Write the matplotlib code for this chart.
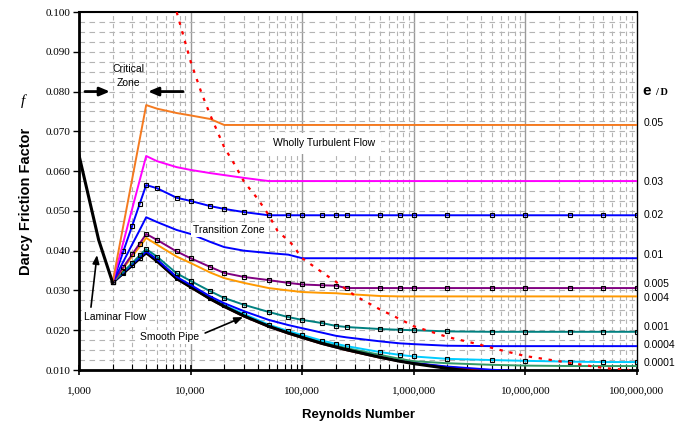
import matplotlib
matplotlib.use("Agg")
import matplotlib.pyplot as plt
from matplotlib.ticker import FuncFormatter, FixedLocator, MultipleLocator

# laminar branch
re_lam = [1000, 1500, 2000]
f_lam = [0.064, 0.0427, 0.032]

# common Reynolds grid for the transition / turbulent curves
re = [2000, 2500, 3000, 3500, 4000, 5000, 7500, 10000, 15000, 20000, 30000,
      50000, 75000, 1e5, 1.5e5, 2e5, 2.5e5, 5e5, 7.5e5, 1e6, 2e6, 5e6, 1e7,
      2.5e7, 5e7, 1e8]

f_005 = [0.0320, 0.0464, 0.0581, 0.0680, 0.0766, 0.0757, 0.0746, 0.0740, 0.0731,
         0.0716, 0.0716, 0.0716, 0.0716, 0.0716, 0.0716, 0.0716, 0.0716, 0.0716,
         0.0716, 0.0716, 0.0716, 0.0716, 0.0716, 0.0716, 0.0716, 0.0716]
f_003 = [0.0320, 0.0422, 0.0506, 0.0577, 0.0638, 0.0625, 0.0610, 0.0603, 0.0595,
         0.0590, 0.0583, 0.0575, 0.0575, 0.0575, 0.0575, 0.0575, 0.0575, 0.0575,
         0.0575, 0.0575, 0.0575, 0.0575, 0.0575, 0.0575, 0.0575, 0.0575]
f_002 = [0.0320, 0.0399, 0.0463, 0.0518, 0.0565, 0.0557, 0.0533, 0.0525, 0.0512,
         0.0505, 0.0497, 0.0489, 0.0489, 0.0489, 0.0489, 0.0489, 0.0489, 0.0489,
         0.0489, 0.0489, 0.0489, 0.0489, 0.0489, 0.0489, 0.0489, 0.0489]
f_001 = [0.0320, 0.0373, 0.0416, 0.0452, 0.0484, 0.0472, 0.0452, 0.0442, 0.0422,
         0.0409, 0.0400, 0.0394, 0.0390, 0.0381, 0.0381, 0.0381, 0.0381, 0.0381,
         0.0381, 0.0381, 0.0381, 0.0381, 0.0381, 0.0381, 0.0381, 0.0381]
f_0005 = [0.0320, 0.0359, 0.0391, 0.0418, 0.0442, 0.0427, 0.0398, 0.0381, 0.0359,
          0.0344, 0.0334, 0.0326, 0.0319, 0.0315, 0.0313, 0.0312, 0.0306, 0.0306,
          0.0306, 0.0306, 0.0306, 0.0306, 0.0306, 0.0306, 0.0306, 0.0306]
f_0004 = [0.0320, 0.0356, 0.0386, 0.0410, 0.0432, 0.0415, 0.0385, 0.0369, 0.0345,
          0.0331, 0.0319, 0.0306, 0.0300, 0.0296, 0.0294, 0.0293, 0.0291, 0.0286,
          0.0285, 0.0285, 0.0285, 0.0285, 0.0285, 0.0285, 0.0285, 0.0285]
f_0001 = [0.0320, 0.0347, 0.0369, 0.0388, 0.0404, 0.0385, 0.0343, 0.0324, 0.0298,
          0.0281, 0.0264, 0.0246, 0.0233, 0.0226, 0.0218, 0.0211, 0.0208, 0.0203,
          0.0201, 0.0200, 0.0197, 0.0196, 0.0196, 0.0196, 0.0196, 0.0196]
f_00004 = [0.0320, 0.0345, 0.0366, 0.0383, 0.0398, 0.0378, 0.0334, 0.0314, 0.0285,
           0.0268, 0.0248, 0.0226, 0.0213, 0.0205, 0.0194, 0.0186, 0.0182, 0.0172,
           0.0167, 0.0165, 0.0161, 0.0160, 0.0160, 0.0160, 0.0160, 0.0160]
f_00001 = [0.0320, 0.0344, 0.0365, 0.0382, 0.0396, 0.0376, 0.0332, 0.0311, 0.0282,
           0.0263, 0.0241, 0.0214, 0.0198, 0.0188, 0.0174, 0.0166, 0.0160, 0.0145,
           0.0138, 0.0134, 0.0128, 0.0125, 0.0123, 0.0121, 0.0120, 0.0120]
f_000005 = [0.0320, 0.0344, 0.0364, 0.0381, 0.0395, 0.0375, 0.0331, 0.0310, 0.0280,
            0.0261, 0.0238, 0.0212, 0.0195, 0.0185, 0.0170, 0.0162, 0.0155, 0.0138,
            0.0128, 0.0122, 0.0117, 0.0113, 0.0111, 0.0110, 0.0110, 0.0110]
f_000001 = [0.0320, 0.0344, 0.0364, 0.0381, 0.0395, 0.0374, 0.0330, 0.0309, 0.0279,
            0.0260, 0.0236, 0.0210, 0.0193, 0.0183, 0.0168, 0.0159, 0.0152, 0.0133,
            0.0123, 0.0118, 0.0109, 0.0101, 0.0097, 0.0094, 0.0093, 0.0092]
f_0000001 = [0.0320, 0.0343, 0.0363, 0.0380, 0.0394, 0.0373, 0.0329, 0.0308, 0.0278,
             0.0259, 0.0235, 0.0209, 0.0192, 0.0181, 0.0166, 0.0157, 0.0150, 0.0131,
             0.0122, 0.0117, 0.0107, 0.0098, 0.0093, 0.0090, 0.0089, 0.0088]
f_smooth = [0.0320, 0.0344, 0.0364, 0.0381, 0.0395, 0.0374, 0.0330, 0.0309, 0.0279,
            0.0260, 0.0236, 0.0210, 0.0193, 0.0182, 0.0167, 0.0158, 0.0151, 0.0132,
            0.0122, 0.0116, 0.0104, 0.0090, 0.0081, 0.0072, 0.0066, 0.0062]

# boundary of the wholly turbulent zone (red dotted)
re_bound = [7500, 10000, 12500, 15000, 20000, 25000, 30000, 40000, 50000, 60000,
            80000, 1e5, 1.5e5, 2e5, 3e5, 5e5, 7.5e5, 1e6, 2e6, 3.5e6, 6e6, 1e7,
            2.5e7, 5e7, 8.5e7]
f_bound = [0.100, 0.0876, 0.0797, 0.0741, 0.0660, 0.0615, 0.0574, 0.0530, 0.0490,
           0.0450, 0.0418, 0.0381, 0.0346, 0.0322, 0.0286, 0.0252, 0.0228, 0.0210,
           0.0183, 0.0167, 0.0150, 0.0135, 0.0118, 0.0105, 0.0100]

ed_labels = ["0.05", "0.03", "0.02", "0.01", "0.005", "0.004", "0.001", "0.0004", "0.0001"]
ed_label_f = [0.0721, 0.0572, 0.0489, 0.0389, 0.0316, 0.0281, 0.0208, 0.0163, 0.0118]

serif = "Liberation Serif"
sans = "Liberation Sans"

fig = plt.figure(figsize=(6.88, 4.25), dpi=100)
ax = fig.add_axes([79/688, 1-370/425, 558/688, 358/425])
ax.set_xscale("log")
ax.set_xlim(1000, 1e8)
ax.set_ylim(0.010, 0.100)

# grid
gcol = "#b4b4b4"
for dec in [1e3, 1e4, 1e5, 1e6, 1e7]:
    for k in range(2, 10):
        ax.axvline(dec*k, color=gcol, lw=0.8, ls=(0, (4, 3)), zorder=0)
for dec in [1e4, 1e5, 1e6, 1e7]:
    ax.axvline(dec, color="#9a9a9a", lw=1.0, zorder=0)
ax.yaxis.set_minor_locator(MultipleLocator(0.0025))
ax.grid(True, which="minor", axis="y", color=gcol, lw=0.8, ls=(0, (5, 4)), zorder=0)
ax.grid(True, which="major", axis="y", color=gcol, lw=0.8, ls=(0, (5, 4)), zorder=0)

mk = dict(marker="s", ms=3, mfc="none", mec="black", mew=0.8)
ax.plot(re, f_0000001, color="#800000", lw=1.6, zorder=3)
ax.plot(re, f_000001, color="#0000ff", lw=1.2, zorder=3)
ax.plot(re, f_000005, color="#339966", lw=1.4, zorder=3)
ax.plot(re, f_00001, color="#00ccff", lw=1.4, zorder=3, **mk)
ax.plot(re, f_smooth, color="black", lw=2.2, zorder=3)
ax.plot(re, f_00004, color="#0000ff", lw=1.4, zorder=3)
ax.plot(re, f_0001, color="#008080", lw=1.4, zorder=3, **mk)
ax.plot(re, f_0004, color="#ff9900", lw=1.4, zorder=3)
ax.plot(re, f_0005, color="#800080", lw=1.4, zorder=3, **mk)
ax.plot(re, f_001, color="#0000ff", lw=1.4, zorder=3)
ax.plot(re, f_002, color="#0000ff", lw=1.4, zorder=3, **mk)
ax.plot(re, f_003, color="#ff00ff", lw=1.4, zorder=3)
ax.plot(re, f_005, color="#f47a20", lw=1.4, zorder=3)
ax.plot(re_lam, f_lam, color="black", lw=2.2, zorder=3)
ax.plot(re_bound, f_bound, color="red", lw=1.6, ls=(0, (1.5, 3)), zorder=4)

# ticks
ax.xaxis.set_major_locator(FixedLocator([1e3, 1e4, 1e5, 1e6, 1e7, 1e8]))
ax.xaxis.set_major_formatter(FuncFormatter(lambda v, p: f"{v:,.0f}"))
ax.yaxis.set_major_locator(MultipleLocator(0.010))
ax.yaxis.set_major_formatter(FuncFormatter(lambda v, p: f"{v:.3f}"))
ax.tick_params(axis="x", which="major", direction="inout", length=7, width=1.2, pad=8)
ax.tick_params(axis="x", which="minor", direction="in", length=4, width=0.8)
ax.tick_params(axis="y", which="major", direction="out", length=4, width=1.0, pad=2)
ax.tick_params(axis="y", which="minor", length=0)
for lab in ax.get_xticklabels() + ax.get_yticklabels():
    lab.set_fontfamily(serif)
    lab.set_fontsize(8)

for s in ["left", "bottom"]:
    ax.spines[s].set_linewidth(2.0)
ax.spines["top"].set_linewidth(1.5)
ax.spines["right"].set_linewidth(1.0)

ax.set_xlabel("Reynolds Number", fontfamily=sans, fontweight="bold", fontsize=9.5, labelpad=10)
ax.set_ylabel("Darcy Friction Factor", fontfamily=sans, fontweight="bold", fontsize=10.5, labelpad=12)
ax.yaxis.set_label_coords(-0.082, 0.47)
ax.text(-0.1, 0.75, "f", transform=ax.transAxes, fontfamily=serif, style="italic",
        fontsize=11, ha="center", va="center")

# right-hand e/D labels
for lab, fy in zip(ed_labels, ed_label_f):
    ax.text(1.011, fy, lab, transform=ax.get_yaxis_transform(), fontfamily=sans,
            fontsize=7.5, ha="left", va="center", clip_on=False)
ax.text(1.01, 0.0801, "e", transform=ax.get_yaxis_transform(), fontfamily=sans,
        fontweight="bold", fontsize=11, ha="left", va="center")
ax.text(1.033, 0.0798, "/ D", transform=ax.get_yaxis_transform(), fontfamily=serif,
        fontweight="bold", fontsize=7.5, ha="left", va="center")

# annotations
box = dict(facecolor="white", edgecolor="none", pad=1.5)
ax.text(2800, 0.0840, "Critical\nZone", fontfamily=sans, fontsize=7.5, ha="center",
        va="center", linespacing=1.5)
arr = dict(arrowstyle="-|>,head_length=0.6,head_width=0.25", color="black", lw=2,
           shrinkA=0, shrinkB=0)
ax.annotate("", xy=(1896, 0.080), xytext=(1132, 0.080), arrowprops=arr)
ax.annotate("", xy=(4150, 0.080), xytext=(8550, 0.080), arrowprops=arr)
ax.text(156800, 0.0670, "Wholly Turbulent Flow", fontfamily=sans, fontsize=7.5,
        ha="center", va="center", bbox=dict(facecolor="white", edgecolor="none", pad=4), zorder=5)
ax.text(22000, 0.0451, "Transition Zone", fontfamily=sans, fontsize=7.5,
        ha="center", va="center", bbox=box, zorder=5)
ax.text(2100, 0.0232, "Laminar Flow", fontfamily=sans, fontsize=7.5, ha="center",
        va="center", bbox=box, zorder=6, clip_on=False)
small_arr = dict(arrowstyle="-|>,head_length=0.5,head_width=0.2", color="black", lw=1.2,
                 shrinkA=0, shrinkB=0)
ax.annotate("", xy=(1450, 0.0389), xytext=(1280, 0.0258), arrowprops=small_arr, zorder=6)
ax.text(6540, 0.0182, "Smooth Pipe", fontfamily=sans, fontsize=7.5, ha="center",
        va="center", bbox=box, zorder=6)
ax.annotate("", xy=(29500, 0.0233), xytext=(13500, 0.0193), arrowprops=small_arr, zorder=6)

fig.savefig("out.png", dpi=100)
